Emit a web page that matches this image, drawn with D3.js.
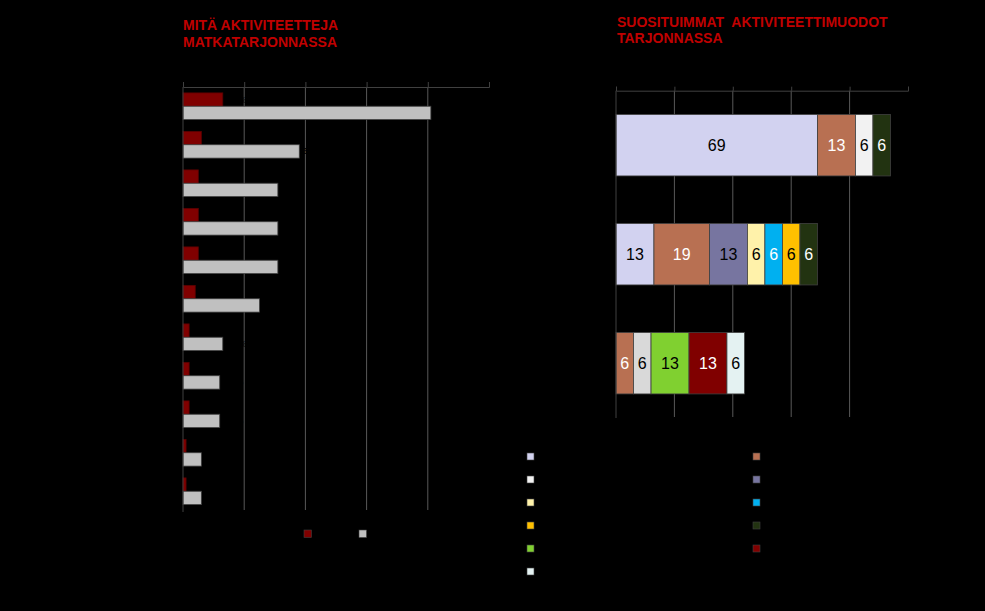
<!DOCTYPE html>
<html><head><meta charset="utf-8">
<script src="https://cdn.jsdelivr.net/npm/d3@7"></script>
<style>html,body{margin:0;padding:0;background:#000;}svg{display:block;font-family:"Liberation Sans",Arial,sans-serif;}</style>
</head><body>
<svg id="c" width="985" height="611"></svg>
<script>
// ---- Left chart data ----
const leftCategories = ["Patikointi","Melonta","Pyöräily","Kalastus","Luontoretket","Hiihto","Ratsastus","Lumikenkäily","Koiravaljakko","Moottorikelkkailu","Kiipeily"];
const leftSeriesNames = ["Pääosin","Osana"];
const leftMain = [13, 6, 5, 5, 5, 4, 2, 2, 2, 1, 1];
const leftIncluded = [81, 38, 31, 31, 31, 25, 13, 12, 12, 6, 6];
const leftTicks = [0, 20, 40, 60, 80, 100];
const leftColors = ["#800000", "#C0C0C0"];

// ---- Right chart data ----
const rightCategories = ["1. aktiviteetti", "2. aktiviteetti", "3. aktiviteetti"];
const rightSeriesNames = ["Patikointi","Melonta","Pyöräily","Kalastus","Luontoretket","Hiihto","Ratsastus","Lumikenkäily","Koiravaljakko","Moottorikelkkailu","Kiipeily"];
const rightColors = ["#D2D2F0","#B87052","#F2F2F2","#7775A0","#FFF2AA","#00B0F0","#FFC000","#223311","#80D030","#800000","#E4F2F2"];
const rightLabelColors = ["#000","#fff","#000","#000","#000","#fff","#000","#fff","#000","#fff","#000"];
// values per series for each category (row)
const rightValues = [
  [69, 13, 0],   // Patikointi
  [13, 19, 6],   // Melonta
  [6, 0, 6],     // Pyöräily
  [0, 13, 0],    // Kalastus
  [0, 6, 0],     // Luontoretket
  [0, 6, 0],     // Hiihto
  [0, 6, 0],     // Ratsastus
  [6, 6, 0],     // Lumikenkäily
  [0, 0, 13],    // Koiravaljakko
  [0, 0, 13],    // Moottorikelkkailu
  [0, 0, 6]      // Kiipeily
];
const rightCellColorOverride = {"2-2": "#D9D9D9"};
const rightTicks = [0, 20, 40, 60, 80, 100];

const svg = d3.select("#c");
svg.append("rect").attr("width",985).attr("height",611).attr("fill","#000");

const titleColor = "#C00000";
function title(x, y1, lines){
  const t = svg.append("text").attr("x",x).attr("y",y1).attr("fill",titleColor)
    .attr("font-weight","bold").attr("font-size",14).style("white-space","pre");
  lines.forEach((l,i)=> t.append("tspan").attr("x",x).attr("y", y1 + i*16.7).text(l));
}
title(183, 30, ["MITÄ AKTIVITEETTEJA","MATKATARJONNASSA"]);
title(617, 26.7, ["SUOSITUIMMAT  AKTIVITEETTIMUODOT","TARJONNASSA"]);

// ===== LEFT CHART =====
{
  const x = d3.scaleLinear().domain([0,100]).range([183,489]);
  const y = d3.scaleBand().domain(leftCategories).range([87,510.5]).paddingInner(0.306).paddingOuter(0.153);
  const ys = d3.scaleBand().domain(leftSeriesNames).range([0,y.bandwidth()]);
  const g = svg.append("g");
  g.selectAll(".grid").data(leftTicks.filter(t=>t>0 && t<100)).join("line")
    .attr("x1",d=>x(d)).attr("x2",d=>x(d)).attr("y1",87).attr("y2",510)
    .attr("stroke","#595959").attr("stroke-width",1);
  const data = leftCategories.map((c,i)=>({c, vals:[leftMain[i], leftIncluded[i]]}));
  const grp = g.selectAll(".cat").data(data).join("g").attr("transform",d=>`translate(0,${y(d.c)})`);
  grp.selectAll("rect").data(d=>d.vals.map((v,j)=>({v,j}))).join("rect")
    .attr("x",x(0)).attr("y",d=>ys(leftSeriesNames[d.j]))
    .attr("width",d=>x(d.v)-x(0)).attr("height",ys.bandwidth())
    .attr("fill",d=>leftColors[d.j]).attr("stroke",d=>d.j===0?"#5a0000":"#404040").attr("stroke-width",0.8);
  grp.selectAll("text").data(d=>d.vals.map((v,j)=>({v,j}))).join("text")
    .attr("x",d=>x(d.v)+3).attr("y",d=>ys(leftSeriesNames[d.j])+ys.bandwidth()/2+3)
    .attr("font-size",9).attr("fill","#000").text(d=>d.v+" %");
  g.selectAll(".lab").data(leftCategories).join("text")
    .attr("x",176).attr("y",d=>y(d)+y.bandwidth()/2+4).attr("text-anchor","end")
    .attr("font-size",11).attr("fill","#000").text(d=>d);
  const ax = g.append("g").attr("transform","translate(0,87)")
    .call(d3.axisTop(x).tickValues(leftTicks).tickSize(5).tickSizeOuter(5).tickFormat(d=>d+" %"));
  ax.select(".domain").attr("stroke","#404040");
  ax.selectAll(".tick line").attr("stroke","#404040");
  ax.selectAll("text").attr("fill","#000").attr("font-size",10);
  g.append("line").attr("x1",183).attr("x2",183).attr("y1",87).attr("y2",512).attr("stroke","#404040");
  const lg = g.append("g");
  const lx = [304, 359];
  leftSeriesNames.forEach((n,i)=>{
    lg.append("rect").attr("x",lx[i]).attr("y",530).attr("width",7.5).attr("height",7.5)
      .attr("fill",leftColors[i]).attr("stroke","#404040").attr("stroke-width",0.6);
    lg.append("text").attr("x",lx[i]+11).attr("y",537).attr("font-size",10).attr("fill","#000").text(n);
  });
}

// ===== RIGHT CHART =====
{
  const x = d3.scaleLinear().domain([0,100]).range([616,908]);
  const y = d3.scaleBand().domain(rightCategories).range([90.7,417.7]).paddingInner(0.436).paddingOuter(0.218);
  const g = svg.append("g");
  g.selectAll(".grid").data(rightTicks.filter(t=>t>0 && t<100)).join("line")
    .attr("x1",d=>x(d)).attr("x2",d=>x(d)).attr("y1",90.7).attr("y2",417)
    .attr("stroke","#595959").attr("stroke-width",1);
  const rows = rightCategories.map((c,ri)=>{
    const o = {cat:c};
    rightSeriesNames.forEach((s,si)=> o[s] = rightValues[si][ri]);
    return o;
  });
  const stacked = d3.stack().keys(rightSeriesNames)(rows);
  stacked.forEach((layer,si)=>{
    const segs = layer.map((d,ri)=>({d,ri,v:rightValues[si][ri]})).filter(e=>e.v>0);
    g.selectAll(null).data(segs).join("rect")
      .attr("x",e=>x(e.d[0])).attr("y",e=>y(rightCategories[e.ri]))
      .attr("width",e=>x(e.d[1])-x(e.d[0])).attr("height",y.bandwidth())
      .attr("fill",e=>rightCellColorOverride[si+"-"+e.ri] || rightColors[si])
      .attr("stroke","#404040").attr("stroke-width",0.8);
    g.selectAll(null).data(segs).join("text")
      .attr("x",e=>(x(e.d[0])+x(e.d[1]))/2).attr("y",e=>y(rightCategories[e.ri])+y.bandwidth()/2+6)
      .attr("text-anchor","middle").attr("font-size",16).attr("fill",rightLabelColors[si]).text(e=>e.v);
  });
  g.selectAll(".lab").data(rightCategories).join("text")
    .attr("x",610).attr("y",d=>y(d)+y.bandwidth()/2+4).attr("text-anchor","end")
    .attr("font-size",11).attr("fill","#000").text(d=>d);
  const ax = g.append("g").attr("transform","translate(0,90.7)")
    .call(d3.axisTop(x).tickValues(rightTicks).tickSize(4).tickSizeOuter(4).tickFormat(d=>d+" %"));
  ax.select(".domain").attr("stroke","#404040");
  ax.selectAll(".tick line").attr("stroke","#404040");
  ax.selectAll("text").attr("fill","#000").attr("font-size",10);
  g.append("line").attr("x1",616).attr("x2",616).attr("y1",90.7).attr("y2",418).attr("stroke","#404040");
  rightSeriesNames.forEach((n,i)=>{
    const col = i%2, row = Math.floor(i/2);
    const lx = col===0 ? 527 : 753;
    const ly = 453 + row*23;
    g.append("rect").attr("x",lx).attr("y",ly).attr("width",7).attr("height",7)
      .attr("fill",rightColors[i]).attr("stroke","#404040").attr("stroke-width",0.6);
    g.append("text").attr("x",lx+11).attr("y",ly+7).attr("font-size",10).attr("fill","#000").text(n);
  });
}
</script>
</body></html>
